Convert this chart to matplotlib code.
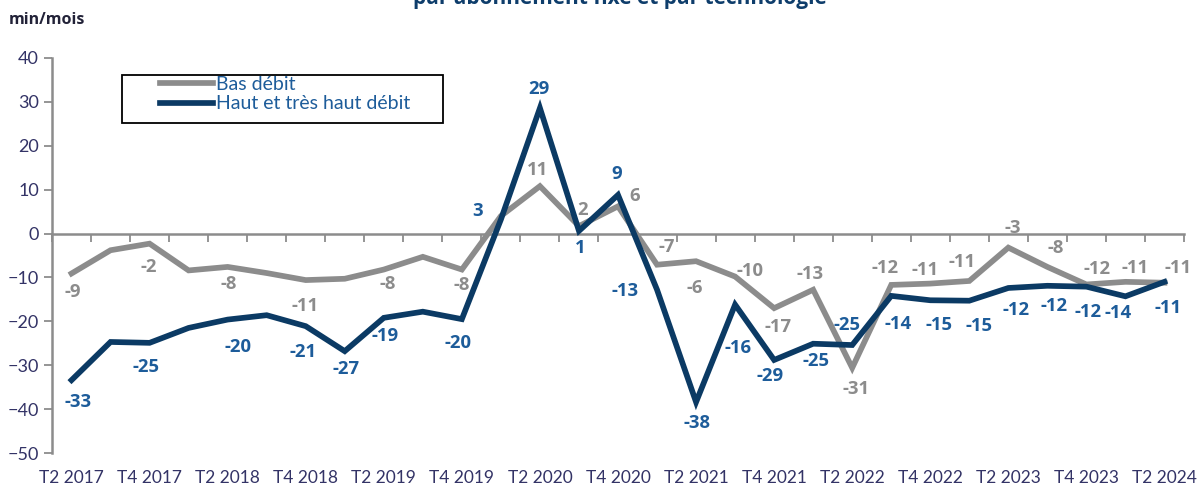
import matplotlib
matplotlib.use('Agg')
import matplotlib.pyplot as plt
from matplotlib.patches import Rectangle
from matplotlib.transforms import blended_transform_factory

plt.rcParams['font.family'] = ['Lato', 'DejaVu Sans']
BOLDFONT = ['Open Sans', 'Noto Sans', 'DejaVu Sans']

# quarters T2 2017 -> T2 2024
quarters = ['T2 2017', 'T3 2017', 'T4 2017', 'T1 2018', 'T2 2018', 'T3 2018', 'T4 2018',
            'T1 2019', 'T2 2019', 'T3 2019', 'T4 2019', 'T1 2020', 'T2 2020', 'T3 2020',
            'T4 2020', 'T1 2021', 'T2 2021', 'T3 2021', 'T4 2021', 'T1 2022', 'T2 2022',
            'T3 2022', 'T4 2022', 'T1 2023', 'T2 2023', 'T3 2023', 'T4 2023', 'T1 2024',
            'T2 2024']

bas_debit = [-9.1, -3.8, -2.3, -8.4, -7.6, -9.0, -10.6, -10.3, -8.2, -5.3, -8.2, 4.0,
             10.8, 1.7, 6.2, -7.1, -6.3, -9.8, -17.0, -12.8, -30.6, -11.7, -11.4, -10.8,
             -3.2, -7.6, -11.6, -11.0, -11.2]
haut_debit = [-33.4, -24.7, -24.9, -21.5, -19.6, -18.6, -21.1, -26.8, -19.2, -17.8, -19.5,
              3.2, 28.6, 0.6, 8.8, -12.8, -38.4, -16.2, -28.8, -25.1, -25.4, -14.2, -15.2,
              -15.3, -12.4, -11.9, -12.1, -14.3, -11.0]

# which points carry a data label, and where the label sits (pixels, dx, dy up)
gray_lbl = {0: (1, -19), 2: (-1, -23), 4: (1, -17), 6: (-1, -26), 8: (4, -14),
            10: (0, -15), 12: (-2, 16), 13: (4, 16), 14: (17, 10), 15: (10, 18),
            16: (-1, -27), 17: (15, 6), 18: (4, -19), 19: (-3, 16), 20: (4, -21),
            21: (-6, 17), 22: (-5, 14), 23: (-7, 19), 24: (4, 20), 25: (8, 19),
            26: (11, 15), 27: (10, 14), 28: (14, 15)}
blue_lbl = {0: (7, -22), 2: (-4, -24), 4: (10, -27), 6: (-3, -26), 7: (1, -18),
            8: (1, -18), 10: (-4, -24), 11: (-23, 9), 12: (-1, 19), 13: (1, -17),
            14: (-1, 21), 15: (-32, -1), 16: (1, -21), 17: (3, -43), 18: (-4, -16),
            19: (3, -17), 20: (-5, 20), 21: (7, -28), 22: (9, -25), 23: (10, -25),
            24: (8, -22), 25: (7, -20), 26: (2, -25), 27: (-7, -17), 28: (4, -26)}

GRAY = '#8c8c8c'
NAVY = '#0b3a64'
LBLUE = '#1d5c9a'
TICKC = '#333366'
AXC = '#8c8c8c'

fig = plt.figure(figsize=(12.01, 4.90), dpi=100)
ax = fig.add_axes([52/1201, 1-453/490, (1184-52)/1201, 395/490])

x = list(range(len(quarters)))
ax.plot(x, bas_debit, color=GRAY, lw=4.1, solid_joinstyle='miter', label='Bas débit', zorder=3)
ax.plot(x, haut_debit, color=NAVY, lw=4.1, solid_joinstyle='miter',
        label='Haut et très haut débit', zorder=4)

for i, (dx, dy) in gray_lbl.items():
    ax.annotate('%d' % round(bas_debit[i]), (i, bas_debit[i]), xytext=(dx, dy),
                textcoords='offset pixels', ha='center', va='center', color=GRAY,
                fontsize=13.3, fontweight='bold', family=BOLDFONT, zorder=5)
for i, (dx, dy) in blue_lbl.items():
    ax.annotate('%d' % round(haut_debit[i]), (i, haut_debit[i]), xytext=(dx, dy),
                textcoords='offset pixels', ha='center', va='center', color=LBLUE,
                fontsize=13.3, fontweight='bold', family=BOLDFONT, zorder=5)

ax.set_xlim(-0.5, len(quarters) - 0.5)
ax.set_ylim(-50, 40)
ax.set_yticks(range(-50, 41, 10))
ax.tick_params(axis='y', colors=AXC, labelcolor=TICKC, labelsize=13, length=6, width=1.3)

# x axis sits on zero, ticks between categories
ax.spines['bottom'].set_position(('data', 0))
ax.spines['bottom'].set_color(AXC)
ax.spines['bottom'].set_linewidth(1.8)
ax.set_xticks([k - 0.5 for k in range(len(quarters) + 1)])
ax.set_xticklabels([])
ax.tick_params(axis='x', colors=AXC, length=6, width=1.3)
ax.spines['left'].set_color(AXC)
ax.spines['left'].set_linewidth(1.8)
ax.spines['top'].set_visible(False)
ax.spines['right'].set_visible(False)

trans = blended_transform_factory(ax.transData, ax.transAxes)
for i in range(0, len(quarters), 2):
    ax.text(i, -25/395, quarters[i], transform=trans, ha='center', va='center',
            fontsize=12.5, color=TICKC)

# legend with its own box
leg = ax.legend(loc='upper left', bbox_to_anchor=(160/1201, 1-76/490),
                bbox_transform=fig.transFigure, frameon=False, fontsize=14,
                handlelength=2.75, handletextpad=0.15, borderpad=0, borderaxespad=0,
                labelspacing=0.12)
for t in leg.get_texts():
    t.set_color(LBLUE)
fig.patches.append(Rectangle((122/1201, 1-123/490), (443-122)/1201, 48/490,
                             transform=fig.transFigure, fill=False, ec='black', lw=1.3))

fig.text(47/1201, 1-20/490, 'min/mois', ha='center', va='center', fontsize=11.5,
         fontweight='bold', family=BOLDFONT, color='#222238')
fig.text(620/1201, 1-4/490, 'par abonnement fixe et par technologie', ha='center',
         va='baseline', fontsize=15, fontweight='bold', family=BOLDFONT, color='#0e3d6b')

fig.savefig('out.png', dpi=100)
